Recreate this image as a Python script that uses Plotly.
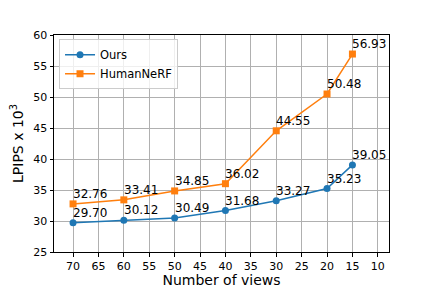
import plotly.graph_objects as go

views = [70, 60, 50, 40, 30, 20, 15]
ours = [29.70, 30.12, 30.49, 31.68, 33.27, 35.23, 39.05]
humannerf = [32.76, 33.41, 34.85, 36.02, 44.55, 50.48, 56.93]
x_ticks = [70, 65, 60, 55, 50, 45, 40, 35, 30, 25, 20, 15, 10]
y_ticks = [25, 30, 35, 40, 45, 50, 55, 60]

blue = "#1f77b4"
orange = "#ff7f0e"
font = "DejaVu Sans"

fig = go.Figure()
fig.add_trace(go.Scatter(x=views, y=ours, mode="lines+markers", name="Ours",
                         line=dict(color=blue, width=1.5),
                         marker=dict(symbol="circle", size=7, color=blue)))
fig.add_trace(go.Scatter(x=views, y=humannerf, mode="lines+markers", name="HumanNeRF",
                         line=dict(color=orange, width=1.5),
                         marker=dict(symbol="square", size=7, color=orange)))

anns = []
for xs, ys in ((views, ours), (views, humannerf)):
    for xv, yv in zip(xs, ys):
        anns.append(dict(x=xv, y=yv, text=f"{yv:.2f}", showarrow=False,
                         xanchor="left", yanchor="bottom", xshift=-2, yshift=1,
                         font=dict(family=font, size=12, color="#000000")))

fig.update_layout(
    width=432, height=288,
    margin=dict(l=54, r=43, t=35, b=36, autoexpand=False),
    paper_bgcolor="white", plot_bgcolor="white",
    font=dict(family=font, size=11, color="#000000"),
    annotations=anns,
    showlegend=True,
    legend=dict(x=0.015, y=0.98, xanchor="left", yanchor="top",
                bgcolor="rgba(255,255,255,0.8)", bordercolor="#cccccc", borderwidth=1,
                font=dict(family=font, size=11.5), itemwidth=30, tracegroupgap=0),
    xaxis=dict(range=[73.75, 7.8], tickmode="array", tickvals=x_ticks,
               ticktext=[str(t) for t in x_ticks], automargin=False,
               showgrid=True, gridcolor="#b0b0b0", gridwidth=0.8,
               showline=True, linecolor="black", linewidth=1, mirror=True,
               ticks="outside", ticklen=3.5, tickcolor="black", zeroline=False,
               title=dict(text="Number of views", font=dict(family=font, size=14), standoff=3)),
    yaxis=dict(range=[25, 60], tickmode="array", tickvals=y_ticks, automargin=False,
               showgrid=True, gridcolor="#b0b0b0", gridwidth=0.8,
               showline=True, linecolor="black", linewidth=1, mirror=True,
               ticks="outside", ticklen=3.5, tickcolor="black", zeroline=False,
               title=dict(text="LPIPS x 10<sup>3</sup>", font=dict(family=font, size=14), standoff=6)),
)

fig.write_html("out.html", config={"displayModeBar": False},
               post_script="document.body.style.margin='0';document.body.style.overflow='hidden';")
